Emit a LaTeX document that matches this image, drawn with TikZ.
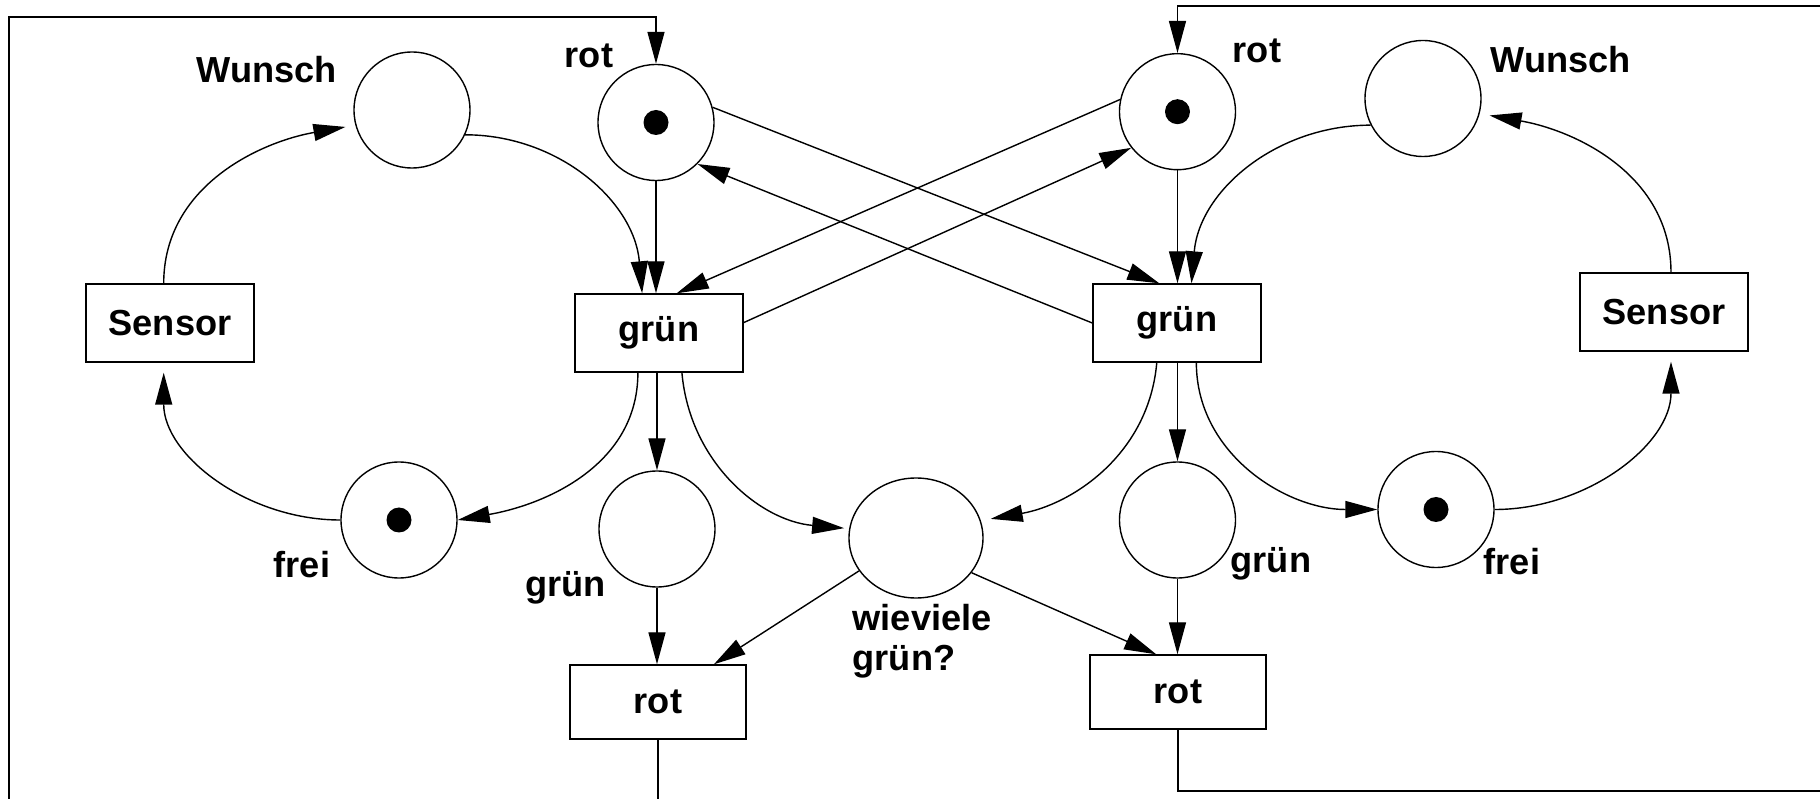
\documentclass[tikz,border=0pt]{standalone}
\usepackage{fontspec}
\setmainfont{Liberation Sans}
\usetikzlibrary{arrows.meta,shapes.geometric}

\begin{document}
\begin{tikzpicture}[line width=0.4pt,
    every node/.style={font=\bfseries\fontsize{10.3}{11.4}\selectfont},
    place/.style={circle,draw,minimum size=11.6mm,inner sep=0pt},
    trans/.style={rectangle,draw,minimum width=16.8mm,minimum height=7.8mm},
    token/.style={circle,fill,minimum size=2.5mm,inner sep=0pt},
    lbl/.style={anchor=base,inner sep=0pt},
    arc/.style={-{Triangle[length=3.2mm,width=1.7mm]}}]
	\useasboundingbox (0,0) rectangle (18.2,7.99);
	\clip (0,0) rectangle (18.2,7.99);

	% linke Ampel
	\node[place] (wunschL) at (4.12,6.89) {};
	\node[place] (rotL) at (6.56,6.765) {};
	\node[token] at (rotL) {};
	\node[trans] (sensorL) at (1.70,4.76) {Sensor};
	\node[trans] (gruenL) at (6.59,4.66) {grün};
	\node[place] (freiL) at (3.99,2.79) {};
	\node[token] at (freiL) {};
	\node[place] (gruenLp) at (6.57,2.70) {};
	\node[trans,minimum width=17.6mm,minimum height=7.4mm] (rotLt) at (6.58,0.97) {rot};

	% rechte Ampel
	\node[place] (rotR) at (11.775,6.873) {};
	\node[token] at (rotR) {};
	\node[place] (wunschR) at (14.23,7.005) {};
	\node[trans] (gruenR) at (11.77,4.76) {grün};
	\node[trans] (sensorR) at (16.64,4.87) {Sensor};
	\node[place] (gruenRp) at (11.775,2.79) {};
	\node[place] (freiR) at (14.36,2.895) {};
	\node[token] at (freiR) {};
	\node[trans,minimum width=17.6mm,minimum height=7.4mm] (rotRt) at (11.78,1.07) {rot};

	% gemeinsamer Zaehler
	\node[ellipse,draw,minimum width=13.4mm,minimum height=12mm,inner sep=0pt] (wiev) at (9.16,2.61) {};

	% Beschriftungen
	\node[lbl] (lWunschL) at (2.67,7.16) {Wunsch};
	\node[lbl] (lRotL) at (5.89,7.31) {rot};
	\node[lbl] (lRotR) at (12.57,7.36) {rot};
	\node[lbl] (lWunschR) at (15.61,7.26) {Wunsch};
	\node[lbl] (lFreiL) at (3.02,2.21) {frei};
	\node[lbl] (lGruenL) at (5.655,2.02) {grün};
	\node[lbl] (lGruenR) at (12.71,2.26) {grün};
	\node[lbl] (lFreiR) at (15.12,2.24) {frei};
	\node[anchor=north west,inner sep=0pt,align=left] (lWiev) at (8.52,1.95) {wieviele\\grün?};

	\coordinate (loopL) at (0.09,-0.5);
	\coordinate (topL) at (0.09,7.82);
	\coordinate (loopR) at (18.6,0.08);
	\coordinate (topR) at (18.6,7.93);

	% Kanten links
	\draw[arc,shorten >=1mm] (sensorL.99) to[out=90,in=190] (wunschL.195);
	\draw[arc] (wunschL.-25) to[out=0,in=95] (gruenL.113);
	\draw[arc] (rotL.south) -- (rotL.south |- gruenL.north);
	\draw[arc,shorten >=1mm] (freiL.west) to[out=180,in=-90] (sensorL.-99);
	\draw[arc] (gruenL.242) to[out=-90,in=10] (freiL.east);
	\draw[arc] (gruenLp.north |- gruenL.south) -- (gruenLp.north);
	\draw[arc,shorten >=0.5mm] (gruenL.-60) to[out=-85,in=175] (wiev.172);
	\draw[arc] (gruenLp.south) -- (gruenLp.south |- rotLt.north);
	\draw[arc] (wiev.210) -- (rotLt.34);

	% Kreuzungen
	\draw[arc] (rotL.15) -- (gruenR.114);
	\draw[arc] (gruenR.west) -- (rotL.-45);
	\draw[arc] (rotR.168) -- (gruenL.66);
	\draw[arc] (gruenL.7) -- (rotR.218);

	% Kanten rechts
	\draw[arc,shorten >=1mm] (sensorR.80) to[out=90,in=-10] (wunschR.-15);
	\draw[arc] (wunschR.207) to[out=180,in=85] (gruenR.70);
	\draw[arc] (rotR.south) -- (rotR.south |- gruenR.north);
	\draw[arc] (gruenR.-64) to[out=-90,in=180] (freiR.west);
	\draw[arc,shorten >=1mm] (gruenR.243) to[out=-95,in=10] (wiev.15);
	\draw[arc] (gruenRp.north |- gruenR.south) -- (gruenRp.north);
	\draw[arc,shorten >=1mm] (freiR.east) to[out=0,in=-90] (sensorR.-80);
	\draw[arc] (gruenRp.south) -- (gruenRp.south |- rotRt.north);
	\draw[arc] (wiev.-32) -- (rotRt.120);

	% Rueckfuehrungen
	\draw[arc] (rotLt.south) |- (loopL) -- (topL) -| (rotL.north);
	\draw[arc] (rotRt.south) |- (loopR) -- (topR) -| (rotR.north);
\end{tikzpicture}
\end{document}
